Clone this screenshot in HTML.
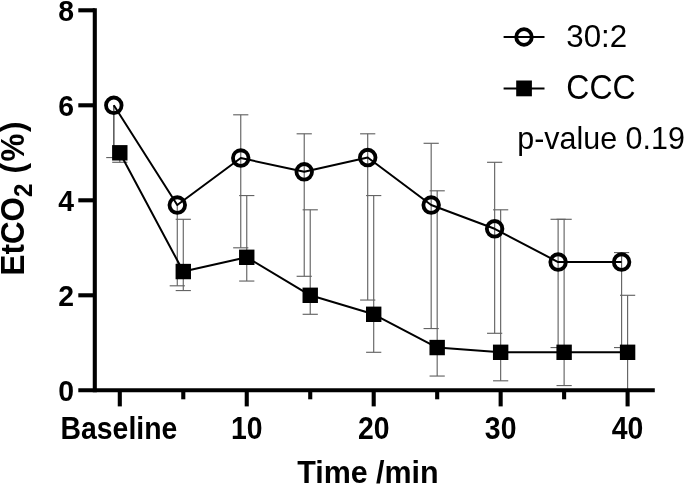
<!DOCTYPE html>
<html lang="en">
<head>
<meta charset="utf-8">
<title>EtCO2 chart</title>
<style>
html,body{margin:0;padding:0;background:#fff;}
body{width:685px;height:485px;overflow:hidden;}
svg{display:block;will-change:transform;filter:grayscale(1);}
</style>
</head>
<body>
<svg width="685" height="485" viewBox="0 0 685 485">
<rect width="685" height="485" fill="#fff"/>
<g stroke="#646464" stroke-width="1.15" fill="none">
<line x1="113.80" y1="105.30" x2="113.80" y2="157.55"/>
<line x1="106.20" y1="157.55" x2="121.40" y2="157.55"/>
<line x1="119.80" y1="152.80" x2="119.80" y2="162.30"/>
<line x1="112.20" y1="162.30" x2="127.40" y2="162.30"/>
<line x1="177.28" y1="205.05" x2="177.28" y2="285.80"/>
<line x1="169.68" y1="285.80" x2="184.88" y2="285.80"/>
<line x1="183.28" y1="271.55" x2="183.28" y2="219.30"/>
<line x1="175.68" y1="219.30" x2="190.88" y2="219.30"/>
<line x1="183.28" y1="271.55" x2="183.28" y2="290.55"/>
<line x1="175.68" y1="290.55" x2="190.88" y2="290.55"/>
<line x1="240.75" y1="158.03" x2="240.75" y2="114.80"/>
<line x1="233.15" y1="114.80" x2="248.35" y2="114.80"/>
<line x1="240.75" y1="158.03" x2="240.75" y2="247.80"/>
<line x1="233.15" y1="247.80" x2="248.35" y2="247.80"/>
<line x1="246.75" y1="257.30" x2="246.75" y2="195.55"/>
<line x1="239.15" y1="195.55" x2="254.35" y2="195.55"/>
<line x1="246.75" y1="257.30" x2="246.75" y2="281.05"/>
<line x1="239.15" y1="281.05" x2="254.35" y2="281.05"/>
<line x1="304.23" y1="171.80" x2="304.23" y2="133.80"/>
<line x1="296.62" y1="133.80" x2="311.83" y2="133.80"/>
<line x1="304.23" y1="171.80" x2="304.23" y2="276.30"/>
<line x1="296.62" y1="276.30" x2="311.83" y2="276.30"/>
<line x1="310.23" y1="295.30" x2="310.23" y2="209.80"/>
<line x1="302.62" y1="209.80" x2="317.83" y2="209.80"/>
<line x1="310.23" y1="295.30" x2="310.23" y2="314.30"/>
<line x1="302.62" y1="314.30" x2="317.83" y2="314.30"/>
<line x1="367.70" y1="157.55" x2="367.70" y2="133.80"/>
<line x1="360.10" y1="133.80" x2="375.30" y2="133.80"/>
<line x1="367.70" y1="157.55" x2="367.70" y2="300.05"/>
<line x1="360.10" y1="300.05" x2="375.30" y2="300.05"/>
<line x1="373.70" y1="314.30" x2="373.70" y2="195.55"/>
<line x1="366.10" y1="195.55" x2="381.30" y2="195.55"/>
<line x1="373.70" y1="314.30" x2="373.70" y2="352.30"/>
<line x1="366.10" y1="352.30" x2="381.30" y2="352.30"/>
<line x1="431.18" y1="205.05" x2="431.18" y2="143.30"/>
<line x1="423.57" y1="143.30" x2="438.78" y2="143.30"/>
<line x1="431.18" y1="205.05" x2="431.18" y2="328.55"/>
<line x1="423.57" y1="328.55" x2="438.78" y2="328.55"/>
<line x1="437.18" y1="347.55" x2="437.18" y2="190.80"/>
<line x1="429.57" y1="190.80" x2="444.78" y2="190.80"/>
<line x1="437.18" y1="347.55" x2="437.18" y2="376.05"/>
<line x1="429.57" y1="376.05" x2="444.78" y2="376.05"/>
<line x1="494.65" y1="228.80" x2="494.65" y2="162.30"/>
<line x1="487.05" y1="162.30" x2="502.25" y2="162.30"/>
<line x1="494.65" y1="228.80" x2="494.65" y2="333.30"/>
<line x1="487.05" y1="333.30" x2="502.25" y2="333.30"/>
<line x1="500.65" y1="352.30" x2="500.65" y2="209.80"/>
<line x1="493.05" y1="209.80" x2="508.25" y2="209.80"/>
<line x1="500.65" y1="352.30" x2="500.65" y2="380.80"/>
<line x1="493.05" y1="380.80" x2="508.25" y2="380.80"/>
<line x1="558.12" y1="262.05" x2="558.12" y2="219.30"/>
<line x1="550.52" y1="219.30" x2="565.73" y2="219.30"/>
<line x1="558.12" y1="262.05" x2="558.12" y2="347.55"/>
<line x1="550.52" y1="347.55" x2="565.73" y2="347.55"/>
<line x1="564.12" y1="352.30" x2="564.12" y2="219.30"/>
<line x1="556.52" y1="219.30" x2="571.73" y2="219.30"/>
<line x1="564.12" y1="352.30" x2="564.12" y2="385.55"/>
<line x1="556.52" y1="385.55" x2="571.73" y2="385.55"/>
<line x1="621.60" y1="262.05" x2="621.60" y2="252.55"/>
<line x1="614.00" y1="252.55" x2="629.20" y2="252.55"/>
<line x1="621.60" y1="262.05" x2="621.60" y2="347.55"/>
<line x1="614.00" y1="347.55" x2="629.20" y2="347.55"/>
<line x1="627.60" y1="352.30" x2="627.60" y2="295.30"/>
<line x1="620.00" y1="295.30" x2="635.20" y2="295.30"/>
<line x1="627.60" y1="352.30" x2="627.60" y2="390.30"/>
<line x1="113.80" y1="105.30" x2="113.80" y2="157.55" stroke="#555"/>
</g>
<polyline points="113.80,105.30 177.28,205.05 240.75,158.03 304.23,171.80 367.70,157.55 431.18,205.05 494.65,228.80 558.12,262.05 621.60,262.05" fill="none" stroke="#000" stroke-width="2.0" stroke-linejoin="round"/>
<polyline points="119.80,152.80 183.28,271.55 246.75,257.30 310.23,295.30 373.70,314.30 437.18,347.55 500.65,352.30 564.12,352.30 627.60,352.30" fill="none" stroke="#000" stroke-width="2.0" stroke-linejoin="round"/>
<circle cx="113.80" cy="105.30" r="7.8" fill="none" stroke="#000" stroke-width="3.8"/>
<circle cx="177.28" cy="205.05" r="7.8" fill="none" stroke="#000" stroke-width="3.8"/>
<circle cx="240.75" cy="158.03" r="7.8" fill="none" stroke="#000" stroke-width="3.8"/>
<circle cx="304.23" cy="171.80" r="7.8" fill="none" stroke="#000" stroke-width="3.8"/>
<circle cx="367.70" cy="157.55" r="7.8" fill="none" stroke="#000" stroke-width="3.8"/>
<circle cx="431.18" cy="205.05" r="7.8" fill="none" stroke="#000" stroke-width="3.8"/>
<circle cx="494.65" cy="228.80" r="7.8" fill="none" stroke="#000" stroke-width="3.8"/>
<circle cx="558.12" cy="262.05" r="7.8" fill="none" stroke="#000" stroke-width="3.8"/>
<circle cx="621.60" cy="262.05" r="7.8" fill="none" stroke="#000" stroke-width="3.8"/>
<rect x="112.10" y="145.10" width="15.4" height="15.4" fill="#000"/>
<rect x="175.58" y="263.85" width="15.4" height="15.4" fill="#000"/>
<rect x="239.05" y="249.60" width="15.4" height="15.4" fill="#000"/>
<rect x="302.53" y="287.60" width="15.4" height="15.4" fill="#000"/>
<rect x="366.00" y="306.60" width="15.4" height="15.4" fill="#000"/>
<rect x="429.48" y="339.85" width="15.4" height="15.4" fill="#000"/>
<rect x="492.95" y="344.60" width="15.4" height="15.4" fill="#000"/>
<rect x="556.42" y="344.60" width="15.4" height="15.4" fill="#000"/>
<rect x="619.90" y="344.60" width="15.4" height="15.4" fill="#000"/>
<g stroke="#000" stroke-width="4.1" fill="none">
<line x1="94.8" y1="8.25" x2="94.8" y2="392.35"/>
<line x1="78.3" y1="390.3" x2="654.8" y2="390.3"/>
<line x1="78.3" y1="295.30" x2="94.8" y2="295.30"/>
<line x1="78.3" y1="200.30" x2="94.8" y2="200.30"/>
<line x1="78.3" y1="105.30" x2="94.8" y2="105.30"/>
<line x1="78.3" y1="10.30" x2="94.8" y2="10.30"/>
<line x1="119.80" y1="390.3" x2="119.80" y2="406.4"/>
<line x1="183.28" y1="390.3" x2="183.28" y2="399.3"/>
<line x1="246.75" y1="390.3" x2="246.75" y2="406.4"/>
<line x1="310.23" y1="390.3" x2="310.23" y2="399.3"/>
<line x1="373.70" y1="390.3" x2="373.70" y2="406.4"/>
<line x1="437.18" y1="390.3" x2="437.18" y2="399.3"/>
<line x1="500.65" y1="390.3" x2="500.65" y2="406.4"/>
<line x1="564.12" y1="390.3" x2="564.12" y2="399.3"/>
<line x1="627.60" y1="390.3" x2="627.60" y2="406.4"/>
</g>
<g font-family="'Liberation Sans', Arial, sans-serif" fill="#000">
<text transform="translate(74.10,400.75) scale(1.0,1.055)" font-size="28.4" text-anchor="end" font-weight="bold">0</text>
<text transform="translate(74.10,305.75) scale(1.0,1.055)" font-size="28.4" text-anchor="end" font-weight="bold">2</text>
<text transform="translate(74.10,210.75) scale(1.0,1.055)" font-size="28.4" text-anchor="end" font-weight="bold">4</text>
<text transform="translate(74.10,115.75) scale(1.0,1.055)" font-size="28.4" text-anchor="end" font-weight="bold">6</text>
<text transform="translate(74.10,20.75) scale(1.0,1.055)" font-size="28.4" text-anchor="end" font-weight="bold">8</text>
<text transform="translate(118.90,438.60) scale(1.0,1.12)" font-size="28.4" text-anchor="middle" font-weight="bold">Baseline</text>
<text transform="translate(246.75,438.60) scale(1.0,1.12)" font-size="28.4" text-anchor="middle" font-weight="bold">10</text>
<text transform="translate(373.70,438.60) scale(1.0,1.12)" font-size="28.4" text-anchor="middle" font-weight="bold">20</text>
<text transform="translate(500.65,438.60) scale(1.0,1.12)" font-size="28.4" text-anchor="middle" font-weight="bold">30</text>
<text transform="translate(627.60,438.60) scale(1.0,1.12)" font-size="28.4" text-anchor="middle" font-weight="bold">40</text>
<text transform="translate(367.90,483.10) scale(1.0,1.02)" font-size="30.45" text-anchor="middle" font-weight="bold">Time /min</text>
<text transform="translate(24.2,275.5) rotate(-90) scale(1,1.065)" font-size="31.4" font-weight="bold">EtCO<tspan font-size="24" dy="7">2</tspan><tspan dy="-7" letter-spacing="1.5"> (%)</tspan></text>
<text transform="translate(566.30,46.80) scale(1.0,1.025)" font-size="31.3" text-anchor="start">30:2</text>
<text transform="translate(566.30,98.50) scale(1.022,1.12)" font-size="31.3" text-anchor="start">CCC</text>
<text transform="translate(517.30,148.70) scale(1.0,1.0)" font-size="30.45" text-anchor="start">p-value 0.19</text>
</g>
<line x1="503.6" y1="37" x2="544.5" y2="37" stroke="#000" stroke-width="2.0"/>
<circle cx="524.0" cy="37.0" r="7.8" fill="none" stroke="#000" stroke-width="3.8"/>
<line x1="503.6" y1="88.4" x2="544.5" y2="88.4" stroke="#000" stroke-width="2.0"/>
<rect x="516.2" y="80.5" width="15.7" height="15.8" fill="#000"/>
</svg>
</body>
</html>
